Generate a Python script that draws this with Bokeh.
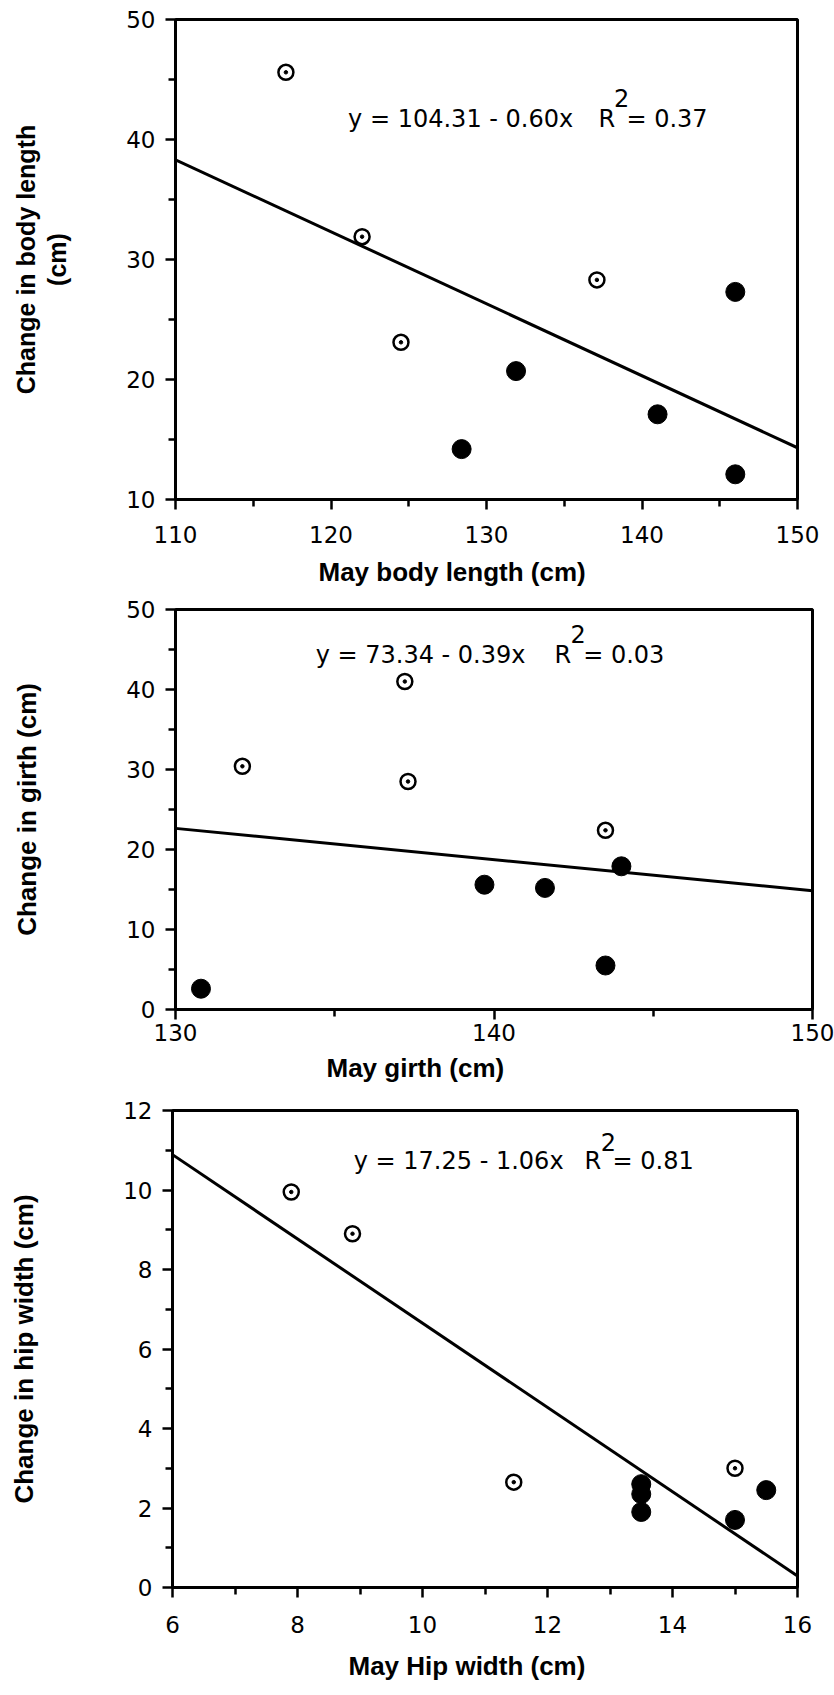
from bokeh.plotting import figure
from bokeh.models import FixedTicker, Label, Range1d, Title
from bokeh.embed import file_html
from bokeh.resources import INLINE

# ---------------- data ----------------
# Panel 1: May body length vs change in body length
p1_xrange = [110, 150]
p1_yrange = [10, 50]
p1_xticks = [110, 120, 130, 140, 150]
p1_xminor = [115, 125, 135, 145]
p1_yticks = [10, 20, 30, 40, 50]
p1_yminor = [15, 25, 35, 45]
p1_open_x = [117.1, 122.0, 124.5, 137.1]
p1_open_y = [45.6, 31.9, 23.1, 28.3]
p1_fill_x = [128.4, 131.9, 141.0, 146.0, 146.0]
p1_fill_y = [14.2, 20.7, 17.1, 27.3, 12.1]
p1_coef = [104.31, -0.60]
p1_eq = ["y = 104.31 - 0.60x", "R", "2", "= 0.37"]
p1_xtitle = "May body length (cm)"
p1_ytitle = "Change in body length\n(cm)"

# Panel 2: May girth vs change in girth
p2_xrange = [130, 150]
p2_yrange = [0, 50]
p2_xticks = [130, 140, 150]
p2_xminor = [135, 145]
p2_yticks = [0, 10, 20, 30, 40, 50]
p2_yminor = [5, 15, 25, 35, 45]
p2_open_x = [132.1, 137.2, 137.3, 143.5]
p2_open_y = [30.4, 41.0, 28.5, 22.4]
p2_fill_x = [130.8, 139.7, 141.6, 144.0, 143.5]
p2_fill_y = [2.6, 15.6, 15.2, 17.9, 5.5]
p2_coef = [73.34, -0.39]
p2_eq = ["y = 73.34 - 0.39x", "R", "2", "= 0.03"]
p2_xtitle = "May girth (cm)"
p2_ytitle = "Change in girth (cm)"

# Panel 3: May hip width vs change in hip width
p3_xrange = [6, 16]
p3_yrange = [0, 12]
p3_xticks = [6, 8, 10, 12, 14, 16]
p3_xminor = [7, 9, 11, 13, 15]
p3_yticks = [0, 2, 4, 6, 8, 10, 12]
p3_yminor = [1, 3, 5, 7, 9, 11]
p3_open_x = [7.9, 8.88, 11.46, 15.0]
p3_open_y = [9.95, 8.9, 2.65, 3.0]
p3_fill_x = [13.5, 13.5, 13.5, 15.0, 15.5]
p3_fill_y = [2.6, 2.35, 1.9, 1.7, 2.45]
p3_coef = [17.25, -1.06]
p3_eq = ["y = 17.25 - 1.06x", "R", "2", "= 0.81"]
p3_xtitle = "May Hip width (cm)"
p3_ytitle = "Change in hip width (cm)"

TICK_FONT = "DejaVu Sans"
TITLE_FONT = "Liberation Sans"


def make_panel(xr, yr, xt, xm, yt, ym, ox, oy, fx, fy, coef, eq, xtitle, ytitle,
               height, borders, eq_pos, xtitle_style, ytitle_stand, ytitle_size, xlab_stand):
    top, bottom, left, right = borders
    p = figure(width=834, height=height, output_backend="svg", toolbar_location=None,
               x_range=Range1d(*xr), y_range=Range1d(*yr),
               min_border_top=top, min_border_bottom=bottom,
               min_border_left=left, min_border_right=right,
               background_fill_color="white", border_fill_color="white")
    p.xgrid.visible = False
    p.ygrid.visible = False
    p.outline_line_color = "black"
    p.outline_line_width = 3
    p.outline_line_alpha = 1

    p.xaxis.ticker = FixedTicker(ticks=xt, minor_ticks=xm)
    p.yaxis.ticker = FixedTicker(ticks=yt, minor_ticks=ym)
    for ax in (p.xaxis, p.yaxis):
        ax.axis_line_width = 3
        ax.axis_line_color = "black"
        ax.major_tick_line_width = 2.5
        ax.minor_tick_line_width = 2.5
        ax.major_tick_line_color = "black"
        ax.minor_tick_line_color = "black"
        ax.major_tick_in = 0
        ax.minor_tick_in = 0
        ax.major_tick_out = 10
        ax.minor_tick_out = 7
        ax.major_label_text_font = TICK_FONT
        ax.major_label_text_font_size = "23px"
        ax.major_label_text_color = "black"
    p.xaxis.major_label_standoff = xlab_stand
    p.yaxis.major_label_standoff = 10

    # y-axis title
    p.yaxis.axis_label = ytitle
    p.yaxis.axis_label_standoff = ytitle_stand
    p.yaxis.axis_label_text_font = TITLE_FONT
    p.yaxis.axis_label_text_font_style = "bold"
    p.yaxis.axis_label_text_font_size = ytitle_size
    p.yaxis.axis_label_text_color = "black"
    p.yaxis.axis_label_text_line_height = 1.1

    # regression line from the fitted equation, across the x range
    lx = [xr[0], xr[1]]
    ly = [coef[0] + coef[1] * v for v in lx]
    p.line(lx, ly, line_color="black", line_width=3)

    # filled points
    p.scatter(fx, fy, size=19, fill_color="black", line_color="black")
    # open points with a centre dot
    p.scatter(ox, oy, size=15, fill_color="white", line_color="black", line_width=2.5)
    p.scatter(ox, oy, size=3.5, fill_color="black", line_color="black")

    # equation annotation
    for txt, (x, y) in zip(eq, eq_pos):
        p.add_layout(Label(x=x, y=y, text=txt, text_font=TICK_FONT,
                           text_font_size="24px", text_color="black",
                           text_baseline="alphabetic", text_align="left"))

    # x-axis title as a panel title below the axis (left aligned, offset in px)
    xoff, xstand = xtitle_style
    p.add_layout(Title(text=xtitle, align="left", offset=xoff, standoff=xstand,
                       text_font=TITLE_FONT, text_font_style="bold",
                       text_font_size="26px", text_color="black"), "below")
    return p


p1 = make_panel(p1_xrange, p1_yrange, p1_xticks, p1_xminor, p1_yticks, p1_yminor,
                p1_open_x, p1_open_y, p1_fill_x, p1_fill_y, p1_coef, p1_eq,
                p1_xtitle, p1_ytitle,
                597, (19, 98, 175, 37),
                [(121.1, 41.7), (137.2, 41.7), (138.2, 43.5), (139.0, 41.7)],
                (143, 19), 52, "25px", 16)

p2 = make_panel(p2_xrange, p2_yrange, p2_xticks, p2_xminor, p2_yticks, p2_yminor,
                p2_open_x, p2_open_y, p2_fill_x, p2_fill_y, p2_coef, p2_eq,
                p2_xtitle, p2_ytitle,
                500, (12, 88, 175, 22),
                [(134.4, 44.3), (141.9, 44.3), (142.4, 47.0), (142.8, 44.3)],
                (151, 15), 81, "26px", 4)

p3 = make_panel(p3_xrange, p3_yrange, p3_xticks, p3_xminor, p3_yticks, p3_yminor,
                p3_open_x, p3_open_y, p3_fill_x, p3_fill_y, p3_coef, p3_eq,
                p3_xtitle, p3_ytitle,
                598, (13, 108, 172, 37),
                [(8.9, 10.72), (12.59, 10.72), (12.85, 11.2), (13.04, 10.72)],
                (176, 27), 81, "26px", 18)

open("out.html", "w").write(file_html([p1, p2, p3], INLINE))
